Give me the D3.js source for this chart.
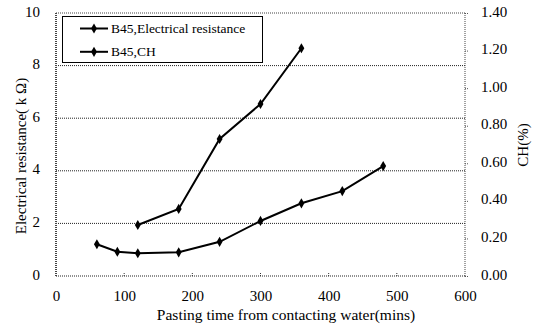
<!DOCTYPE html>
<html><head><meta charset="utf-8">
<script src="https://cdn.jsdelivr.net/npm/d3@7"></script>
<style>body{margin:0;background:#fff}svg{display:block}svg text{font-family:"Liberation Serif","Times New Roman",serif !important;fill:#000}</style>
</head><body><svg id="c" width="533" height="329" font-family="Liberation Serif"></svg>
<script>
const resTime = [120, 180, 240, 300, 360];
const resValues = [1.94, 2.55, 5.21, 6.54, 8.66];
const chTime = [60, 90, 120, 180, 240, 300, 360, 420, 480];
const chValues = [0.169, 0.129, 0.121, 0.126, 0.182, 0.293, 0.387, 0.452, 0.585];
const xTicks = [0, 100, 200, 300, 400, 500, 600];
const leftTicks = [0, 2, 4, 6, 8, 10];
const rightTicks = [0, 0.2, 0.4, 0.6, 0.8, 1.0, 1.2, 1.4];
const seriesNames = ["B45,Electrical resistance", "B45,CH"];

const svg = d3.select("#c");
const L = 56, R = 465, T = 13, B = 276;
const x = d3.scaleLinear().domain([0, 600]).range([L, R]);
const yL = d3.scaleLinear().domain([0, 10]).range([B, T]);
const yR = d3.scaleLinear().domain([0, 1.4]).range([B, T]);
const FONT = '"Liberation Serif","Times New Roman",serif';

// gridlines
svg.append("g").selectAll("line").data(leftTicks.filter(d => d > 0 && d < 10)).join("line")
  .attr("x1", L).attr("x2", R).attr("y1", d => yL(d)).attr("y2", d => yL(d))
  .attr("stroke", "#222").attr("stroke-width", 1).attr("stroke-dasharray", "1,1");
// frame
svg.append("line").attr("x1", L).attr("x2", R).attr("y1", T).attr("y2", T)
  .attr("stroke", "#444").attr("stroke-dasharray", "1,1");
svg.append("line").attr("x1", R).attr("x2", R).attr("y1", T).attr("y2", B)
  .attr("stroke", "#444").attr("stroke-dasharray", "1,1");
svg.append("line").attr("x1", L).attr("x2", L).attr("y1", T).attr("y2", B)
  .attr("stroke", "#444").attr("stroke-width", 2).attr("stroke-dasharray", "1,1");
svg.append("line").attr("x1", L).attr("x2", R).attr("y1", B).attr("y2", B)
  .attr("stroke", "#222").attr("stroke-dasharray", "1,1");

// bottom axis
const xAxis = d3.axisBottom(x).tickValues(xTicks).tickSize(0).tickPadding(14).tickFormat(d3.format("d"));
const gx = svg.append("g").attr("transform", `translate(0,${B})`).call(xAxis);
gx.attr("font-family", FONT).attr("font-size", 15);
gx.select(".domain").remove();
svg.append("g").selectAll("line").data(xTicks.filter(d => d > 0 && d < 600)).join("line")
  .attr("x1", d => x(d)).attr("x2", d => x(d)).attr("y1", B).attr("y2", B - 3)
  .attr("stroke", "#333").attr("stroke-dasharray", "1,1");

// left axis
const gl = svg.append("g").attr("transform", `translate(${L},0)`)
  .call(d3.axisLeft(yL).tickValues(leftTicks).tickSize(0).tickPadding(16).tickFormat(d3.format("d")));
gl.attr("font-family", FONT).attr("font-size", 15);
gl.select(".domain").remove();
gl.selectAll("text").attr("dy", "0.2em");

// right axis
const gr = svg.append("g").attr("transform", `translate(${R},0)`)
  .call(d3.axisRight(yR).tickValues(rightTicks).tickSize(3).tickPadding(13).tickFormat(d3.format(".2f")));
gr.attr("font-family", FONT).attr("font-size", 15);
gr.select(".domain").remove();
gr.selectAll("line").attr("stroke", "#555").attr("stroke-dasharray", "1,1");
gr.selectAll("text").attr("dy", "0.2em");

// titles
svg.append("text").attr("x", 286).attr("y", 320).attr("text-anchor", "middle").attr("font-size", 15.5)
  .text("Pasting time from contacting water(mins)");
svg.append("text").attr("transform", "translate(26,156) rotate(-90)").attr("text-anchor", "middle").attr("font-size", 15)
  .text("Electrical resistance( k Ω)");
svg.append("text").attr("transform", "translate(528,145) rotate(-90)").attr("text-anchor", "middle").attr("font-size", 15)
  .text("CH(%)");

// series
const diamond = d3.symbol().type(d3.symbolDiamond).size(30);
function drawSeries(times, vals, yScale) {
  const pts = times.map((t, i) => [x(t), yScale(vals[i])]);
  svg.append("path").attr("d", d3.line()(pts)).attr("fill", "none").attr("stroke", "#000").attr("stroke-width", 2);
  svg.append("g").selectAll("path").data(pts).join("path")
    .attr("d", diamond).attr("transform", d => `translate(${d[0]},${d[1]})`).attr("fill", "#000");
}
drawSeries(resTime, resValues, yL);
drawSeries(chTime, chValues, yR);

// legend
const lg = svg.append("g");
lg.append("rect").attr("x", 62.5).attr("y", 16.5).attr("width", 200).attr("height", 46)
  .attr("fill", "#fff").attr("stroke", "#000").attr("stroke-width", 1);
seriesNames.forEach((n, i) => {
  const yy = 28.5 + i * 23.3;
  lg.append("line").attr("x1", 80).attr("x2", 108).attr("y1", yy).attr("y2", yy).attr("stroke", "#000").attr("stroke-width", 2);
  lg.append("path").attr("d", diamond).attr("transform", `translate(94,${yy})`).attr("fill", "#000");
  lg.append("text").attr("x", 111).attr("y", yy + 4.5).attr("font-size", 13.5).text(n);
});
</script></body></html>
